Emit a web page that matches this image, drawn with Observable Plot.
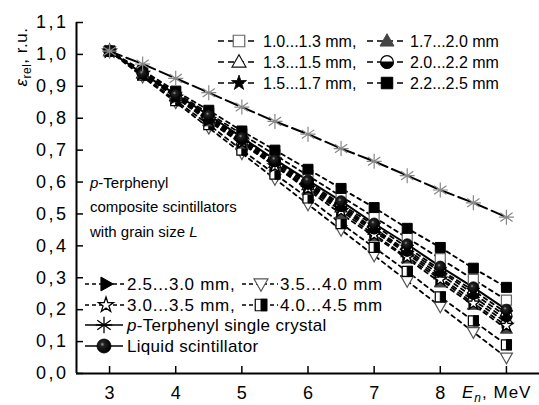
<!DOCTYPE html>
<html><head><meta charset="utf-8">
<script src="https://cdn.jsdelivr.net/npm/d3@7"></script>
<script src="https://cdn.jsdelivr.net/npm/@observablehq/plot@0.6"></script>
<style>
body{margin:0;background:#fff;}
#chart{position:relative;width:539px;height:405px;}
</style></head><body><div id="chart"></div>
<script>
// ---- data ----
const energy = [3, 3.5, 4, 4.5, 5, 5.5, 6, 6.5, 7, 7.5, 8, 8.5, 9];
const g10_13 = [1.01, 0.945, 0.88, 0.815, 0.75, 0.685, 0.62, 0.555, 0.49, 0.425, 0.36, 0.295, 0.23];
const g13_15 = [1.01, 0.94, 0.87, 0.80, 0.73, 0.66, 0.59, 0.52, 0.45, 0.38, 0.31, 0.24, 0.17];
const g15_17 = [1.01, 0.94, 0.875, 0.805, 0.735, 0.67, 0.60, 0.53, 0.465, 0.395, 0.325, 0.26, 0.19];
const g17_20 = [1.01, 0.94, 0.865, 0.79, 0.72, 0.65, 0.575, 0.50, 0.43, 0.36, 0.285, 0.215, 0.14];
const g20_22 = [1.01, 0.94, 0.87, 0.80, 0.735, 0.665, 0.595, 0.525, 0.455, 0.385, 0.32, 0.25, 0.18];
const g22_25 = [1.01, 0.95, 0.885, 0.825, 0.76, 0.70, 0.64, 0.58, 0.52, 0.455, 0.395, 0.33, 0.27];
const g25_30 = [1.01, 0.94, 0.87, 0.795, 0.725, 0.655, 0.585, 0.515, 0.445, 0.375, 0.30, 0.23, 0.16];
const g30_35 = [1.01, 0.94, 0.865, 0.795, 0.725, 0.65, 0.58, 0.51, 0.435, 0.365, 0.295, 0.22, 0.15];
const g35_40 = [1.01, 0.93, 0.85, 0.77, 0.69, 0.61, 0.53, 0.45, 0.37, 0.29, 0.21, 0.13, 0.05];
const g40_45 = [1.01, 0.935, 0.855, 0.78, 0.70, 0.625, 0.55, 0.47, 0.395, 0.32, 0.24, 0.165, 0.09];
const liquid = [1.01, 0.94, 0.875, 0.81, 0.74, 0.67, 0.605, 0.54, 0.47, 0.405, 0.335, 0.27, 0.20];
const crystal = [1.01, 0.97, 0.925, 0.88, 0.835, 0.79, 0.75, 0.705, 0.665, 0.62, 0.575, 0.535, 0.49];

const grainLabels = ["1.0...1.3 mm", "1.3...1.5 mm", "1.5...1.7 mm", "1.7...2.0 mm", "2.0...2.2 mm",
  "2.2...2.5 mm", "2.5...3.0 mm", "3.0...3.5 mm", "3.5...4.0 mm", "4.0...4.5 mm"];
const grainValues = [g10_13, g13_15, g15_17, g17_20, g20_22, g22_25, g25_30, g30_35, g35_40, g40_45];
const crystalLabel = "Terphenyl single crystal";
const liquidLabel = "Liquid scintillator";
const xTicks = [3, 4, 5, 6, 7, 8, 9];
const xTickLabels = ["3", "4", "5", "6", "7", "8", ""];
const yTicks = [0, 0.1, 0.2, 0.3, 0.4, 0.5, 0.6, 0.7, 0.8, 0.9, 1.0, 1.1];

// ---- rows ----
const rows = [];
grainLabels.forEach((s, k) => energy.forEach((e, i) => rows.push({series: s, e, v: grainValues[k][i]})));
const liquidRows = energy.map((e, i) => ({series: liquidLabel, e, v: liquid[i]}));
const crystalRows = energy.map((e, i) => ({series: crystalLabel, e, v: crystal[i]}));

// ---- symbols ----
const sym = f => ({draw(ctx, size) { f(ctx, Math.sqrt(size / Math.PI)); }});
const SQ = sym((c, r) => c.rect(-r, -r, 2 * r, 2 * r));
const HALF_R = sym((c, r) => c.rect(0, -r, r, 2 * r));
const TRI_UP = sym((c, r) => { c.moveTo(0, -r * 1.15); c.lineTo(r * 1.1, r * 0.8); c.lineTo(-r * 1.1, r * 0.8); c.closePath(); });
const TRI_DN = sym((c, r) => { c.moveTo(0, r * 1.15); c.lineTo(r * 1.1, -r * 0.8); c.lineTo(-r * 1.1, -r * 0.8); c.closePath(); });
const TRI_RT = sym((c, r) => { c.moveTo(r * 1.15, 0); c.lineTo(-r * 0.8, -r * 1.1); c.lineTo(-r * 0.8, r * 1.1); c.closePath(); });
const STAR = sym((c, r) => {
  for (let i = 0; i < 10; i++) {
    const a = -Math.PI / 2 + i * Math.PI / 5, rr = i % 2 ? r * 0.45 : r * 1.15;
    i ? c.lineTo(rr * Math.cos(a), rr * Math.sin(a)) : c.moveTo(rr * Math.cos(a), rr * Math.sin(a));
  }
  c.closePath();
});
const CIRC = sym((c, r) => { c.moveTo(r, 0); c.arc(0, 0, r, 0, 2 * Math.PI); });
const HALF_B = sym((c, r) => { c.moveTo(r, 0); c.arc(0, 0, r, 0, Math.PI); c.closePath(); });
const AST = sym((c, r) => {
  for (const a of [90, 35, -35, 0]) {
    const t = a * Math.PI / 180;
    c.moveTo(r * Math.cos(t), r * Math.sin(t)); c.lineTo(-r * Math.cos(t), -r * Math.sin(t));
  }
});

const styles = {
  "1.0...1.3 mm": [{symbol: SQ, r: 5, fill: "white", stroke: "#666", strokeWidth: 1.2}],
  "1.3...1.5 mm": [{symbol: TRI_UP, r: 5.5, fill: "white", stroke: "#111", strokeWidth: 1.2}],
  "1.5...1.7 mm": [{symbol: STAR, r: 6, fill: "#000", stroke: "#000", strokeWidth: 0.8}],
  "1.7...2.0 mm": [{symbol: TRI_UP, r: 5.5, fill: "#444", stroke: "#444", strokeWidth: 1}],
  "2.0...2.2 mm": [{symbol: CIRC, r: 5.5, fill: "white", stroke: "#000", strokeWidth: 1.2},
                   {symbol: HALF_B, r: 5.5, fill: "#000", stroke: "#000", strokeWidth: 1}],
  "2.2...2.5 mm": [{symbol: SQ, r: 5, fill: "#000", stroke: "#000", strokeWidth: 1}],
  "2.5...3.0 mm": [{symbol: TRI_RT, r: 5.5, fill: "#000", stroke: "#000", strokeWidth: 1}],
  "3.0...3.5 mm": [{symbol: STAR, r: 6, fill: "white", stroke: "#000", strokeWidth: 1.3}],
  "3.5...4.0 mm": [{symbol: TRI_DN, r: 5.5, fill: "white", stroke: "#555", strokeWidth: 1.2}],
  "4.0...4.5 mm": [{symbol: SQ, r: 5, fill: "white", stroke: "#000", strokeWidth: 1.2},
                   {symbol: HALF_R, r: 5, fill: "#000", stroke: "#000", strokeWidth: 1}],
};
const drawOrder = ["3.5...4.0 mm", "4.0...4.5 mm", "1.7...2.0 mm", "2.5...3.0 mm", "1.3...1.5 mm",
  "3.0...3.5 mm", "2.0...2.2 mm", "1.5...1.7 mm", "1.0...1.3 mm", "2.2...2.5 mm"];

const dotMarks = [];
for (const s of drawOrder) {
  const data = rows.filter(d => d.series === s);
  for (const st of styles[s]) dotMarks.push(Plot.dot(data, {x: "e", y: "v", ...st}));
}

const chart = Plot.plot({
  width: 539, height: 405,
  marginLeft: 76, marginRight: 0, marginTop: 22, marginBottom: 32,
  style: "font-family: 'Liberation Sans', Arial, sans-serif; font-size: 17px; background: white; color: black;",
  x: {domain: [2.5, 9.5]},
  y: {domain: [0, 1.1]},
  marks: [
    Plot.line(rows, {x: "e", y: "v", z: "series", stroke: "#000", strokeWidth: 1.8, strokeDasharray: "4,4"}),
    Plot.line(crystalRows, {x: "e", y: "v", stroke: "#000", strokeWidth: 2, strokeDasharray: "13,5"}),
    Plot.line(liquidRows, {x: "e", y: "v", stroke: "#000", strokeWidth: 2}),
    ...dotMarks,
    Plot.dot(liquidRows, {x: "e", y: "v", r: 5.5, fill: "url(#sphereGrad)", stroke: "#000", strokeWidth: 0.8}),
    Plot.dot(crystalRows, {x: "e", y: "v", symbol: AST, r: 7.5, fill: "none", stroke: "#888", strokeWidth: 1.2}),
    Plot.ruleX([2.5], {stroke: "#000", strokeWidth: 2}),
    Plot.ruleY([0], {stroke: "#000", strokeWidth: 2}),
    Plot.axisX({ticks: xTicks, tickSize: -7, tickPadding: 20, label: null, strokeWidth: 1.5,
      tickFormat: d => xTickLabels[xTicks.indexOf(d)], fontSize: 18}),
    Plot.axisY({ticks: yTicks, tickSize: -7, tickPadding: 15, label: null, strokeWidth: 1.5,
      tickFormat: d => d.toFixed(1).replace(".", ","), fontSize: 18})
  ]
});
document.getElementById("chart").appendChild(chart);

// wider tick lettering like the reference
d3.select(chart).selectAll("[aria-label='y-axis tick label'] text").attr("letter-spacing", 2.5);
d3.select(chart).selectAll("[aria-label='x-axis tick label'] text").attr("letter-spacing", 0);

// ---- decorations: gradient, titles, legends ----
const svg = d3.select(chart);
const defs = svg.insert("defs", ":first-child");
const grad = defs.append("radialGradient").attr("id", "sphereGrad").attr("cx", "38%").attr("cy", "38%").attr("r", "62%");
grad.append("stop").attr("offset", "0%").attr("stop-color", "#999");
grad.append("stop").attr("offset", "25%").attr("stop-color", "#222");
grad.append("stop").attr("offset", "100%").attr("stop-color", "#000");

const ov = svg.append("g").attr("font-family", "'Liberation Sans', Arial, sans-serif")
  .attr("fill", "#000").attr("text-anchor", "start");

// axis titles
const yt = ov.append("text").attr("transform", "translate(27,57) rotate(-90)").attr("text-anchor", "middle")
  .attr("font-size", 17).attr("letter-spacing", 0.5);
yt.append("tspan").attr("font-style", "italic").text("ε");
yt.append("tspan").attr("font-size", 12).attr("dy", 4).text("rel");
yt.append("tspan").attr("dy", -4).text(", r.u.");

const xt = ov.append("text").attr("x", 462).attr("y", 398).attr("font-size", 17).attr("letter-spacing", 1);
xt.append("tspan").attr("font-style", "italic").text("E");
xt.append("tspan").attr("font-size", 12).attr("dy", 4).attr("font-style", "italic").text("n");
xt.append("tspan").attr("dy", -4).text(", MeV");

// annotation block
const ann = ov.append("g").attr("font-size", 15);
const a1 = ann.append("text").attr("x", 90).attr("y", 188);
a1.append("tspan").attr("font-style", "italic").text("p");
a1.append("tspan").text("-Terphenyl");
ann.append("text").attr("x", 90).attr("y", 212).text("composite scintillators");
const a3 = ann.append("text").attr("x", 90).attr("y", 237);
a3.append("tspan").text("with grain size ");
a3.append("tspan").attr("font-style", "italic").text("L");

function drawSym(g, cx, cy, st, scale) {
  const p = d3.path();
  st.symbol.draw(p, Math.PI * st.r * st.r * scale * scale);
  g.append("path").attr("transform", `translate(${cx},${cy})`).attr("d", p.toString())
    .attr("fill", st.fill).attr("stroke", st.stroke).attr("stroke-width", st.strokeWidth);
}
function legendItem(cx, cy, x1, x2, tx, key, label, fontSize, dash, ls) {
  ov.append("line").attr("x1", x1).attr("x2", x2).attr("y1", cy).attr("y2", cy)
    .attr("stroke", "#000").attr("stroke-width", 1.5).attr("stroke-dasharray", dash);
  for (const st of styles[key]) drawSym(ov, cx, cy, st, 1.15);
  ov.append("text").attr("x", tx).attr("y", cy).attr("dy", "0.36em").attr("font-size", fontSize)
    .attr("letter-spacing", ls).text(label);
}
// top legend
const topRows = [41, 62, 83];
[[0, 3], [1, 4], [2, 5]].forEach(([a, b], i) => {
  legendItem(239, topRows[i], 218, 258, 263, grainLabels[a], grainLabels[a] + ",", 16, "6,4", 0);
  legendItem(387, topRows[i], 367, 406, 410, grainLabels[b], grainLabels[b], 16, "6,4", 0);
});
// bottom legend
const botRows = [284, 305, 325, 346];
[[6, 8], [7, 9]].forEach(([a, b], i) => {
  legendItem(106, botRows[i], 85, 124, 127, grainLabels[a], grainLabels[a] + ",", 17, "4,3", 0.7);
  legendItem(261, botRows[i], 242, 278, 280, grainLabels[b], grainLabels[b], 17, "4,3", 0.7);
});
// crystal legend
ov.append("line").attr("x1", 85).attr("x2", 123).attr("y1", botRows[2]).attr("y2", botRows[2]).attr("stroke", "#000").attr("stroke-width", 1.5);
drawSym(ov, 104, botRows[2], {symbol: AST, r: 7.5, fill: "none", stroke: "#000", strokeWidth: 1.3}, 1.1);
const ct = ov.append("text").attr("x", 127).attr("y", botRows[2]).attr("dy", "0.36em").attr("font-size", 17).attr("letter-spacing", 0.3);
ct.append("tspan").attr("font-style", "italic").text("p");
ct.append("tspan").text("-" + crystalLabel);
// liquid legend
ov.append("line").attr("x1", 85).attr("x2", 123).attr("y1", botRows[3]).attr("y2", botRows[3]).attr("stroke", "#000").attr("stroke-width", 1.5);
ov.append("circle").attr("cx", 104).attr("cy", botRows[3]).attr("r", 7).attr("fill", "url(#sphereGrad)").attr("stroke", "#000").attr("stroke-width", 0.8);
ov.append("text").attr("x", 127).attr("y", botRows[3]).attr("dy", "0.36em").attr("font-size", 17).attr("letter-spacing", 0.3).text(liquidLabel);
</script></body></html>
